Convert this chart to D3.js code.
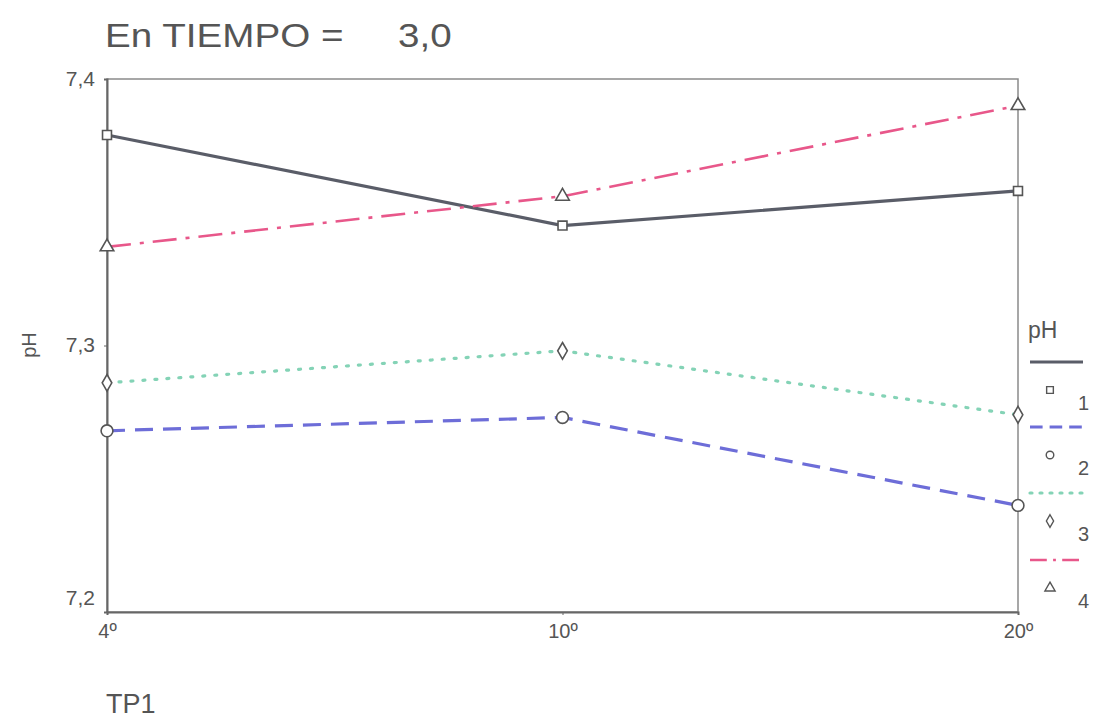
<!DOCTYPE html>
<html><head><meta charset="utf-8">
<script src="https://cdn.jsdelivr.net/npm/d3@7"></script>
<style>body{margin:0;background:#fff;} text{font-family:"Liberation Sans",Arial,sans-serif;fill:#555;}</style>
</head><body>
<svg id="c" width="1094" height="721"></svg>
<script>
const categories = ["4º", "10º", "20º"];
const seriesNames = ["1", "2", "3", "4"];
const s1 = [7.379, 7.345, 7.358];
const s2 = [7.268, 7.273, 7.240];
const s3 = [7.286, 7.298, 7.274];
const s4 = [7.337, 7.356, 7.390];
const yTicks = [7.2, 7.3, 7.4];
const titleLeft = "En TIEMPO =";
const titleRight = "3,0";

const series = [
  {name: seriesNames[0], values: s1, color: "#5a5d68", dash: null, width: 3.2, marker: "square"},
  {name: seriesNames[1], values: s2, color: "#6d6dd8", dash: "18,10", width: 3.2, marker: "circle"},
  {name: seriesNames[2], values: s3, color: "#84d3b6", dash: "2,10", width: 3.2, marker: "diamond"},
  {name: seriesNames[3], values: s4, color: "#e8578a", dash: "24,9,4,9", width: 2.6, marker: "triangle"}
];

const svg = d3.select("#c");
const L = 107, R = 1018, T = 79, B = 612;
const x = d3.scalePoint().domain(categories).range([L, R]);
const y = d3.scaleLinear().domain([7.2, 7.4]).range([B, T]);

// frame
svg.append("rect").attr("x", L).attr("y", T).attr("width", R - L).attr("height", B - T)
  .attr("fill", "none").attr("stroke", "#8a8a8a").attr("stroke-width", 1.5);

// y axis
const ya = svg.append("g").attr("transform", `translate(${L},0)`)
  .call(d3.axisLeft(y).tickValues(yTicks).tickSize(3).tickFormat(d => d3.format(".1f")(d).replace(".", ",")));
ya.select(".domain").attr("stroke", "#666").attr("stroke-width", 2);
ya.selectAll(".tick line").attr("stroke", "#666");
ya.selectAll(".tick text").attr("font-size", 21).attr("fill", "#555").attr("x", -12)
  .attr("dy", d => d === 7.2 ? "-0.35em" : "0.3em");

// x axis
const xa = svg.append("g").attr("transform", `translate(0,${B})`)
  .call(d3.axisBottom(x).tickSize(3));
xa.select(".domain").attr("stroke", "#666").attr("stroke-width", 2);
xa.selectAll(".tick line").attr("stroke", "#666");
xa.selectAll(".tick text").attr("font-size", 20).attr("fill", "#555").attr("y", 12);

// lines
const line = d3.line().x((d, i) => x(categories[i])).y(d => y(d));
const symType = {square: d3.symbolSquare, circle: d3.symbolCircle, diamond: d3.symbolDiamond, triangle: d3.symbolTriangle};
series.forEach(s => {
  svg.append("path").datum(s.values).attr("d", line).attr("fill", "none")
    .attr("stroke", s.color).attr("stroke-width", s.width)
    .attr("stroke-dasharray", s.dash).attr("stroke-linecap", s.dash === "2,10" ? "round" : "butt");
});
series.forEach(s => {
  svg.selectAll(null).data(s.values).enter().append("path")
    .attr("d", d3.symbol().type(symType[s.marker]).size(s.marker === "circle" ? 110 : 80))
    .attr("transform", (d, i) => `translate(${x(categories[i])},${y(d)})`)
    .attr("fill", "#fff").attr("stroke", "#555").attr("stroke-width", 1.6);
});

// title & axis labels
svg.append("text").attr("transform", "translate(105,47) scale(1.17,1)").attr("font-size", 33).text(titleLeft);
svg.append("text").attr("transform", "translate(398,47) scale(1.17,1)").attr("font-size", 33).text(titleRight);
svg.append("text").attr("transform", "translate(36,345) rotate(-90)").attr("text-anchor", "middle").attr("font-size", 20).text("pH");
svg.append("text").attr("x", 106).attr("y", 713).attr("font-size", 27).text("TP1");

// legend
const lg = svg.append("g");
lg.append("text").attr("x", 1028).attr("y", 338).attr("font-size", 23).text("pH");
const legY = [362, 427, 493, 560];
series.forEach((s, i) => {
  const yy = legY[i];
  lg.append("line").attr("x1", 1030).attr("x2", 1083).attr("y1", yy).attr("y2", yy)
    .attr("stroke", s.color).attr("stroke-width", s.width).attr("stroke-dasharray", s.dash === "2,10" ? "2,8" : (s.dash ? s.dash.split(",").map(v => +v * 0.7).join(",") : null))
    .attr("stroke-linecap", s.dash === "2,10" ? "round" : "butt");
  lg.append("path").attr("d", d3.symbol().type(symType[s.marker]).size(45))
    .attr("transform", `translate(1050,${yy + 28})`)
    .attr("fill", "#fff").attr("stroke", "#555").attr("stroke-width", 1.4);
  lg.append("text").attr("x", 1078).attr("y", yy + 48).attr("font-size", 20).text(s.name);
});
</script>
</body></html>
